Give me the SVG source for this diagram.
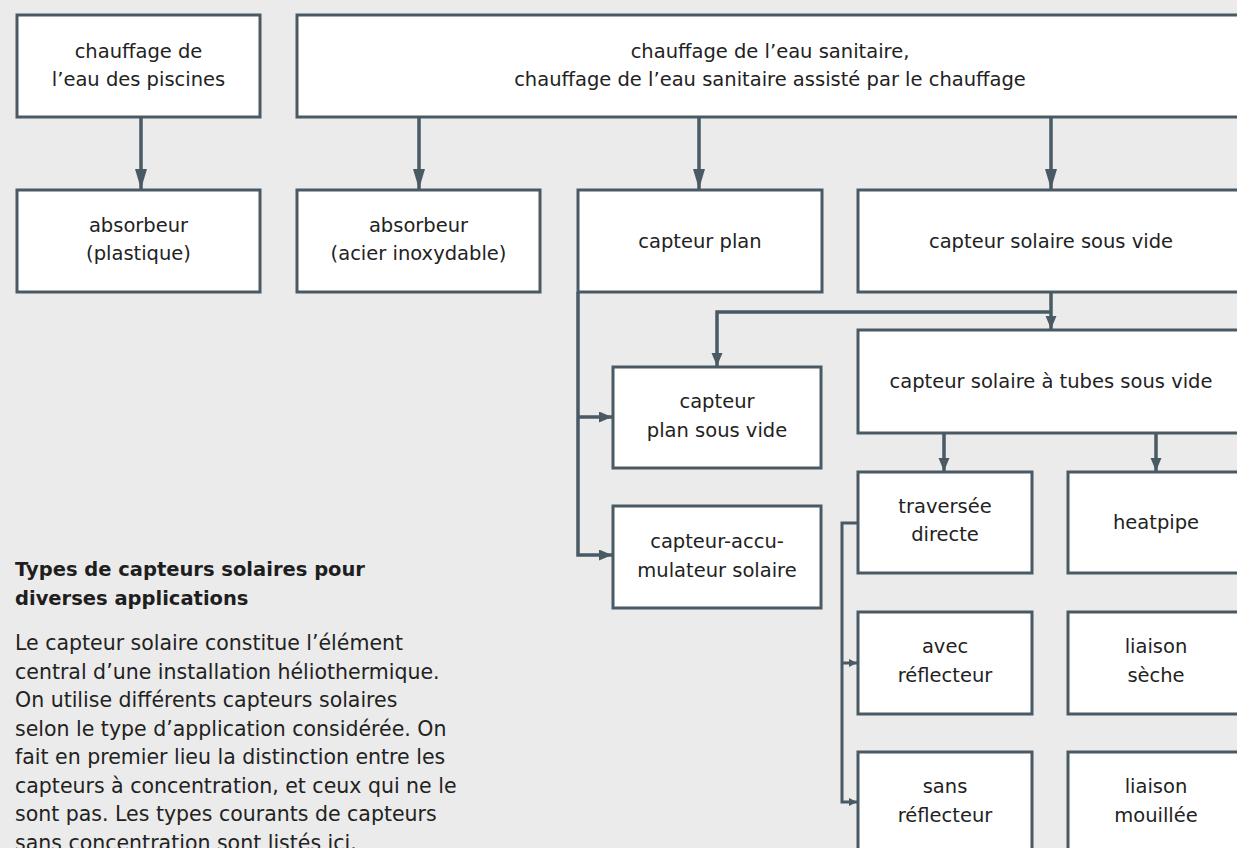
<svg xmlns="http://www.w3.org/2000/svg" width="1237" height="848" viewBox="0 0 1237 848">
<style>
.bx{fill:#ffffff;stroke:#4a5a64;stroke-width:3}
.t{font-family:"DejaVu Sans",sans-serif;font-size:19.5px;fill:#222;text-anchor:middle}
.c{fill:none;stroke:#4a5a64;stroke-width:3.5}
.cs{fill:none;stroke:#4a5a64;stroke-width:3}
.h{font-family:"DejaVu Sans",sans-serif;font-size:19.5px;font-weight:bold;fill:#1e1e1e}
.b{font-family:"DejaVu Sans",sans-serif;font-size:20.5px;fill:#222}
</style>
<defs>
<marker id="aL" markerUnits="userSpaceOnUse" markerWidth="22" markerHeight="14" refX="20" refY="6" orient="auto"><path d="M0,0 L20,6 L0,12 Z" fill="#4a5a64"/></marker>
<marker id="aM" markerUnits="userSpaceOnUse" markerWidth="16" markerHeight="14" refX="13" refY="5.5" orient="auto"><path d="M0,0 L13,5.5 L0,11 Z" fill="#4a5a64"/></marker>
<marker id="aS" markerUnits="userSpaceOnUse" markerWidth="10" markerHeight="10" refX="8" refY="4" orient="auto"><path d="M0,0 L8,4 L0,8 Z" fill="#4a5a64"/></marker>
</defs>
<rect x="0" y="0" width="1237" height="848" fill="#ebebeb"/>
<g id="connectors">
<path class="c" d="M141,117 V189" marker-end="url(#aL)"/>
<path class="c" d="M419,117 V189" marker-end="url(#aL)"/>
<path class="c" d="M699,117 V189" marker-end="url(#aL)"/>
<path class="c" d="M1051,117 V189" marker-end="url(#aL)"/>
<path class="c" d="M578,292 V555 H612" marker-end="url(#aM)"/>
<path class="c" d="M578,417 H612" marker-end="url(#aM)"/>
<path class="c" d="M1051,292 V329" marker-end="url(#aM)"/>
<path class="c" d="M1051,312 H717 V366" marker-end="url(#aM)"/>
<path class="c" d="M944,433 V471" marker-end="url(#aM)"/>
<path class="c" d="M1156,433 V471" marker-end="url(#aM)"/>
<path class="cs" d="M858,523 H842 V802 H857" marker-end="url(#aS)"/>
<path class="cs" d="M842,663 H857" marker-end="url(#aS)"/>
</g>
<g id="n1"><rect class="bx" x="17" y="15" width="243" height="102"/><text class="t" x="138.5" y="58">chauffage de</text><text class="t" x="138.5" y="86">l’eau des piscines</text></g>
<g id="n2"><rect class="bx" x="297" y="15" width="947" height="102"/><text class="t" x="770" y="58">chauffage de l’eau sanitaire,</text><text class="t" x="770" y="86">chauffage de l’eau sanitaire assisté par le chauffage</text></g>
<g id="n3"><rect class="bx" x="17" y="190" width="243" height="102"/><text class="t" x="138.5" y="232">absorbeur</text><text class="t" x="138.5" y="260">(plastique)</text></g>
<g id="n4"><rect class="bx" x="297" y="190" width="243" height="102"/><text class="t" x="418.5" y="232">absorbeur</text><text class="t" x="418.5" y="260">(acier inoxydable)</text></g>
<g id="n5"><rect class="bx" x="578" y="190" width="244" height="102"/><text class="t" x="700" y="248">capteur plan</text></g>
<g id="n6"><rect class="bx" x="858" y="190" width="386" height="102"/><text class="t" x="1051" y="248">capteur solaire sous vide</text></g>
<g id="n7"><rect class="bx" x="613" y="367" width="208" height="101"/><text class="t" x="717" y="408">capteur</text><text class="t" x="717" y="437">plan sous vide</text></g>
<g id="n8"><rect class="bx" x="858" y="330" width="386" height="103"/><text class="t" x="1051" y="388">capteur solaire à tubes sous vide</text></g>
<g id="n9"><rect class="bx" x="613" y="506" width="208" height="102"/><text class="t" x="717" y="548">capteur-accu-</text><text class="t" x="717" y="577">mulateur solaire</text></g>
<g id="n10"><rect class="bx" x="858" y="472" width="174" height="101"/><text class="t" x="945" y="513">traversée</text><text class="t" x="945" y="541">directe</text></g>
<g id="n11"><rect class="bx" x="1068" y="472" width="176" height="101"/><text class="t" x="1156" y="529">heatpipe</text></g>
<g id="n12"><rect class="bx" x="858" y="612" width="174" height="102"/><text class="t" x="945" y="653">avec</text><text class="t" x="945" y="682">réflecteur</text></g>
<g id="n13"><rect class="bx" x="1068" y="612" width="176" height="102"/><text class="t" x="1156" y="653">liaison</text><text class="t" x="1156" y="682">sèche</text></g>
<g id="n14"><rect class="bx" x="858" y="752" width="174" height="102"/><text class="t" x="945" y="793">sans</text><text class="t" x="945" y="822">réflecteur</text></g>
<g id="n15"><rect class="bx" x="1068" y="752" width="176" height="102"/><text class="t" x="1156" y="793">liaison</text><text class="t" x="1156" y="822">mouillée</text></g>
<g id="caption">
<text class="h" x="15" y="576">Types de capteurs solaires pour</text>
<text class="h" x="15" y="605">diverses applications</text>
<text class="b" x="15" y="650">Le capteur solaire constitue l’élément</text>
<text class="b" x="15" y="678.5">central d’une installation héliothermique.</text>
<text class="b" x="15" y="707">On utilise différents capteurs solaires</text>
<text class="b" x="15" y="735.5">selon le type d’application considérée. On</text>
<text class="b" x="15" y="764">fait en premier lieu la distinction entre les</text>
<text class="b" x="15" y="792.5">capteurs à concentration, et ceux qui ne le</text>
<text class="b" x="15" y="821">sont pas. Les types courants de capteurs</text>
<text class="b" x="15" y="849.5">sans concentration sont listés ici.</text>
</g>
</svg>
